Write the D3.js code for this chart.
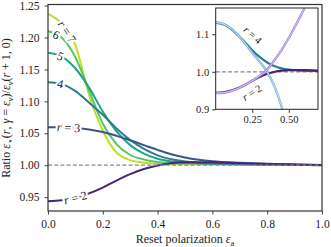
<!DOCTYPE html>
<html>
<head>
<meta charset="utf-8">
<script src="https://cdn.jsdelivr.net/npm/d3@7"></script>
<style>
body{margin:0;background:#fff}
text{font-family:"Liberation Serif","Times New Roman",serif;fill:#222}
</style>
</head>
<body>
<script>
// reset polarization grid and ratio curves
var xs=[0,0.05,0.1,0.15,0.2,0.25,0.3,0.35,0.4,0.45,0.5,0.55,0.6,0.7,0.8,0.9,1.0]
var r2=[0.9436,0.9450,0.9490,0.9560,0.9650,0.9760,0.9860,0.9940,0.9995,1.0030,1.0045,1.0048,1.0045,1.0032,1.0020,1.0010,1.0003]
var r3=[1.0596,1.0593,1.0582,1.0560,1.0520,1.0460,1.0390,1.0315,1.0240,1.0172,1.0120,1.0085,1.0062,1.0038,1.0022,1.0011,1.0004]
var r4=[1.1300,1.1270,1.1160,1.0980,1.0790,1.0575,1.0395,1.0255,1.0155,1.0092,1.0058,1.0040,1.0030,1.0019,1.0011,1.0006,1.0002]
var r5=[1.1760,1.1700,1.1515,1.1215,1.0840,1.0530,1.0315,1.0180,1.0100,1.0060,1.0040,1.0032,1.0026,1.0016,1.0009,1.0004,1.0001]
var r6=[1.2100,1.2000,1.1690,1.1170,1.0650,1.0330,1.0160,1.0090,1.0050,1.0035,1.0028,1.0024,1.0020,1.0013,1.0007,1.0003,1.0001]
var r7=[1.2370,1.2220,1.1880,1.1100,1.0540,1.0200,1.0080,1.0040,1.0025,1.0020,1.0018,1.0016,1.0014,1.0010,1.0006,1.0003,1.0001]
var rValues=[2,3,4,5,6,7]
var labelText=["r = 2","r = 3","4","5","6","r = 7"]
var labelX=[0.10,0.075,0.045,0.045,0.03,0.069]

// inset: series expansions
var approxX=[0,0.05,0.1,0.15,0.2,0.25,0.3,0.35,0.4,0.45,0.5,0.55,0.6,0.65]
var approx4=[1.132,1.128,1.117,1.099,1.076,1.051,1.027,1.001,0.963,0.908,0.840,0.76,0.67,0.57]
var approx2=[0.943,0.944,0.948,0.955,0.965,0.976,0.989,1.005,1.030,1.058,1.090,1.126,1.164,1.205]
var insetLabelText=["r = 4","r = 2"]
var insetLabelX=[0.253,0.248]
var insetLabelY=[1.098,0.944]

var tickX=[0,0.2,0.4,0.6,0.8,1.0]
var tickY=[0.95,1.00,1.05,1.10,1.15,1.20,1.25]
var insetTickX=[0.25,0.5]
var insetTickY=[0.9,1.0,1.1]

var series=[r2,r3,r4,r5,r6,r7]
var colors=[0.1,0.26,0.42,0.58,0.74,0.9].map(function(t){return d3.interpolateViridis(t)})

var svg=d3.select("body").append("svg").attr("width",331).attr("height",247)
var xScale=d3.scaleLinear().domain([0,1]).range([48,322])
var yScale=d3.scaleLinear().domain([0.9283,1.2517]).range([211,4.5])

var line=d3.line().curve(d3.curveMonotoneX)
  .x(function(d){return xScale(d[0])}).y(function(d){return yScale(d[1])})

svg.append("clipPath").attr("id","mainclip").append("rect")
   .attr("x",48).attr("y",4.5).attr("width",274).attr("height",206.5)

var plot=svg.append("g").attr("clip-path","url(#mainclip)")
for(var k=series.length-1;k>=0;k--){
  plot.append("path")
      .attr("d",line(xs.map(function(x,i){return [x,series[k][i]]})))
      .attr("fill","none").attr("stroke",colors[k]).attr("stroke-width",2)
}
plot.append("line")
    .attr("x1",xScale(0)).attr("x2",xScale(1))
    .attr("y1",yScale(1)).attr("y2",yScale(1))
    .attr("stroke","#888").attr("stroke-width",1.2).attr("stroke-dasharray","4,2.2")

// inline labels on the curves
var interp=function(arr,x){
  var i=Math.min(d3.bisectRight(xs,x),xs.length-1)
  var t=(x-xs[i-1])/(xs[i]-xs[i-1])
  return arr[i-1]+t*(arr[i]-arr[i-1])
}
rValues.forEach(function(r,k){
  var x=labelX[k], y=interp(series[k],x)
  var dx=xScale(x+0.01)-xScale(x-0.01)
  var dy=yScale(interp(series[k],x+0.01))-yScale(interp(series[k],Math.max(0,x-0.01)))
  var ang=Math.atan2(dy,dx)*180/Math.PI
  var t=svg.append("text")
     .attr("transform","translate("+xScale(x)+","+yScale(y)+") rotate("+ang+")")
     .attr("text-anchor","middle").attr("dy","0.33em")
     .attr("font-size",12)
     .attr("stroke","#fff").attr("stroke-width",4).attr("paint-order","stroke")
  var txt=labelText[k]
  if(txt.charAt(0)=="r"){
    t.append("tspan").attr("font-style","italic").text("r")
    t.append("tspan").text(txt.slice(1))
  } else t.text(txt)
})

// axes
var yAxis=d3.axisLeft(yScale).tickValues(tickY).tickFormat(d3.format(".2f")).tickSize(3.5).tickPadding(5)
var gy=svg.append("g").attr("transform","translate(48,0)").call(yAxis)
var xAxis=d3.axisBottom(xScale).tickValues(tickX).tickFormat(d3.format(".1f")).tickSize(3.5).tickPadding(5)
var gx=svg.append("g").attr("transform","translate(0,211)").call(xAxis)
svg.selectAll(".domain").remove()
svg.selectAll(".tick line").attr("stroke","#444").attr("stroke-width",1)
svg.selectAll(".tick text").attr("font-size",11.5).attr("font-family","Liberation Serif").attr("fill","#222")
svg.append("rect").attr("x",48).attr("y",4.5).attr("width",274).attr("height",206.5)
   .attr("fill","none").attr("stroke","#333").attr("stroke-width",1.2)

// axis titles
svg.append("text").attr("x",185).attr("y",243).attr("text-anchor","middle").attr("font-size",12)
   .call(function(t){
     t.append("tspan").text("Reset polarization ")
     t.append("tspan").attr("font-style","italic").text("ε")
     t.append("tspan").attr("font-size",8.5).attr("dy",2.5).text("a")
   })
var yl=svg.append("text").attr("transform","translate(10,108) rotate(-90)")
   .attr("text-anchor","middle").attr("font-size",12)
yl.append("tspan").text("Ratio ")
yl.append("tspan").attr("font-style","italic").text("ε")
yl.append("tspan").attr("font-size",8.5).attr("dy",2.5).text("⋆")
yl.append("tspan").attr("dy",-2.5).text("(")
yl.append("tspan").attr("font-style","italic").text("r")
yl.append("tspan").text(", ")
yl.append("tspan").attr("font-style","italic").text("γ")
yl.append("tspan").text(" = ")
yl.append("tspan").attr("font-style","italic").text("ε")
yl.append("tspan").attr("font-size",8.5).attr("dy",2.5).attr("font-style","italic").text("v")
yl.append("tspan").attr("dy",-2.5).text(")/")
yl.append("tspan").attr("font-style","italic").text("ε")
yl.append("tspan").attr("font-size",8.5).attr("dy",2.5).attr("font-style","italic").text("v")
yl.append("tspan").attr("dy",-2.5).text("(")
yl.append("tspan").attr("font-style","italic").text("r")
yl.append("tspan").text(" + 1, 0)")

// inset
var ix=d3.scaleLinear().domain([0,0.7]).range([215.7,318])
var iy=d3.scaleLinear().domain([0.9,1.17]).range([109.3,8])
var iline=d3.line().curve(d3.curveMonotoneX)
  .x(function(d){return ix(d[0])}).y(function(d){return iy(d[1])})
var inset=svg.append("g")
inset.append("rect").attr("x",215.7).attr("y",8).attr("width",102.3).attr("height",101.3).attr("fill","#fff")
svg.append("clipPath").attr("id","insetclip").append("rect")
   .attr("x",215.7).attr("y",8).attr("width",102.3).attr("height",101.3)
var ip=inset.append("g").attr("clip-path","url(#insetclip)")
ip.append("line").attr("x1",ix(0)).attr("x2",ix(0.7)).attr("y1",iy(1)).attr("y2",iy(1))
  .attr("stroke","#888").attr("stroke-width",1.2).attr("stroke-dasharray","4,2.2")
var exact=[[r4,colors[2]],[r2,colors[0]]]
exact.forEach(function(e){
  ip.append("path").attr("d",iline(xs.map(function(x,i){return [x,e[0][i]]})))
    .attr("fill","none").attr("stroke",e[1]).attr("stroke-width",2.2)
})
var approx=[[approx4,"#77a9dc"],[approx2,"#9b7ae0"]]
approx.forEach(function(a){
  var d=iline(approxX.map(function(x,i){return [x,a[0][i]]}))
  ip.append("path").attr("d",d).attr("fill","none").attr("stroke",a[1]).attr("stroke-width",2.3)
  ip.append("path").attr("d",d).attr("fill","none").attr("stroke","#fff").attr("stroke-width",0.7).attr("stroke-opacity",0.9)
})
var angles=[42,-32]
insetLabelText.forEach(function(txt,k){
  var t=inset.append("text")
    .attr("transform","translate("+ix(insetLabelX[k])+","+iy(insetLabelY[k])+") rotate("+angles[k]+")")
    .attr("text-anchor","middle").attr("dy","0.33em").attr("font-size",10.5)
  t.append("tspan").attr("font-style","italic").text("r")
  t.append("tspan").text(txt.slice(1))
})
var iyAxis=d3.axisLeft(iy).tickValues(insetTickY).tickFormat(d3.format(".1f")).tickSize(3.5).tickPadding(3)
var ixAxis=d3.axisBottom(ix).tickValues(insetTickX).tickFormat(d3.format(".2f")).tickSize(3.5).tickPadding(3)
var giy=inset.append("g").attr("transform","translate(215.7,0)").call(iyAxis)
var gix=inset.append("g").attr("transform","translate(0,109.3)").call(ixAxis)
inset.selectAll(".domain").remove()
inset.selectAll(".tick line").attr("stroke","#333").attr("stroke-width",1)
inset.selectAll(".tick text").attr("font-size",10.5).attr("font-family","Liberation Serif").attr("fill","#222")
inset.append("rect").attr("x",215.7).attr("y",8).attr("width",102.3).attr("height",101.3)
   .attr("fill","none").attr("stroke","#222").attr("stroke-width",1)
</script>
</body>
</html>
